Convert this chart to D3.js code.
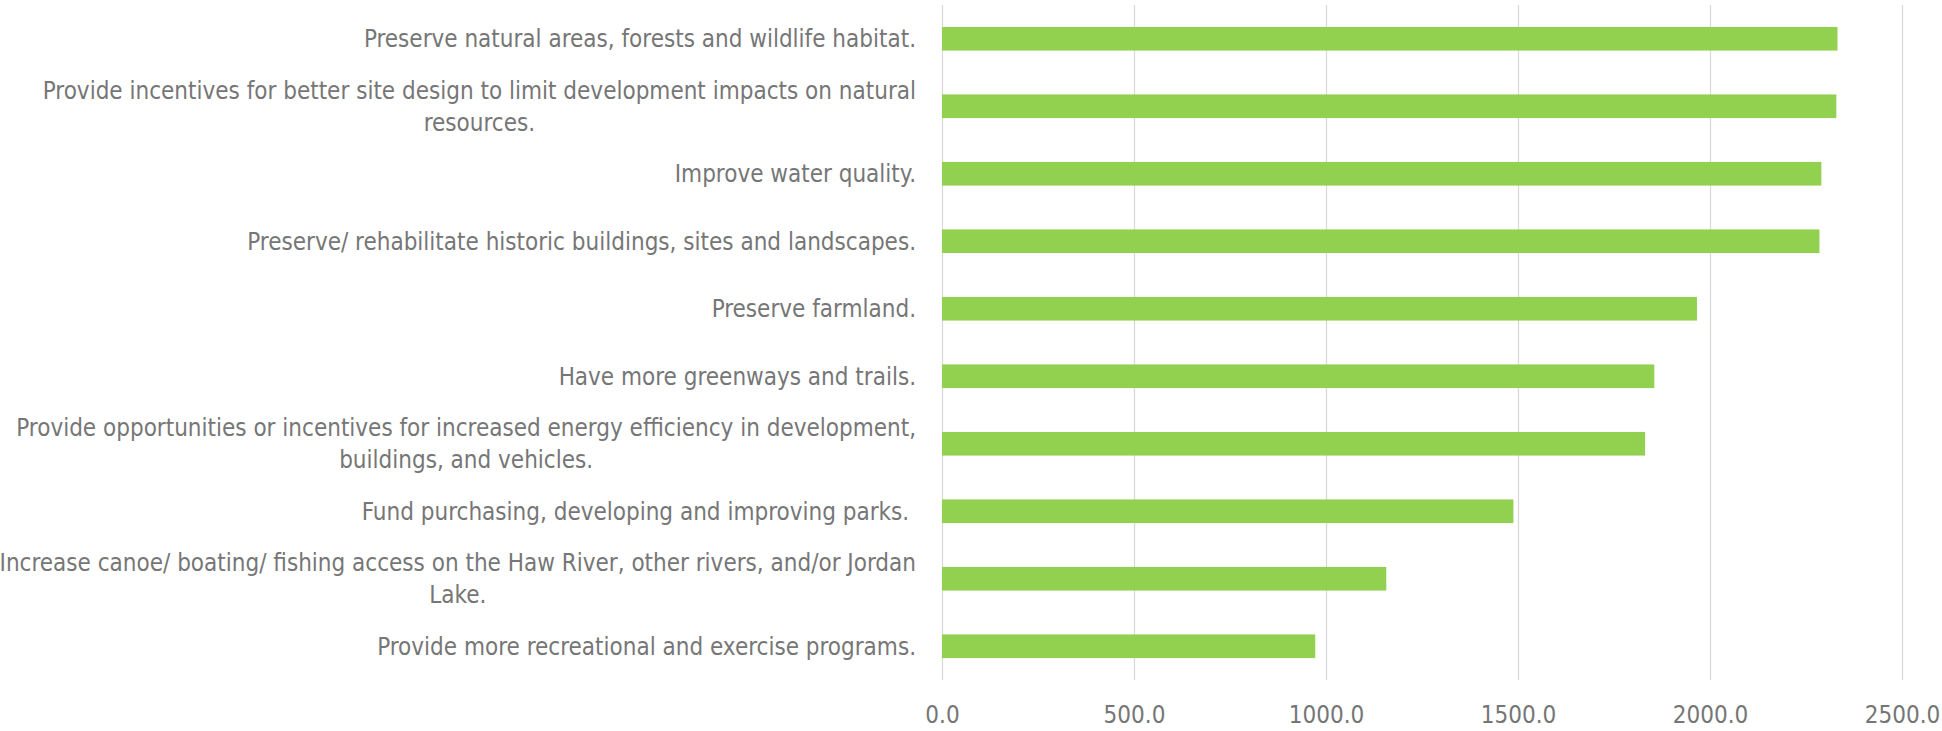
<!DOCTYPE html>
<html>
<head>
<meta charset="utf-8">
<script src="https://cdn.jsdelivr.net/npm/d3@7"></script>
<style>
  html, body { margin: 0; padding: 0; background: #fff; }
  svg text { font-family: "Liberation Sans Narrow", "DejaVu Sans Condensed", "Open Sans", sans-serif; fill: #767676; white-space: pre; }
</style>
</head>
<body>
<svg id="chart" width="1942" height="731"></svg>
<script>
const categories = [
  ["Preserve natural areas, forests and wildlife habitat."],
  ["Provide incentives for better site design to limit development impacts on natural", "resources."],
  ["Improve water quality."],
  ["Preserve/ rehabilitate historic buildings, sites and landscapes."],
  ["Preserve farmland."],
  ["Have more greenways and trails."],
  ["Provide opportunities or incentives for increased energy efficiency in development,", "buildings, and vehicles."],
  ["Fund purchasing, developing and improving parks. "],
  ["Increase canoe/ boating/ fishing access on the Haw River, other rivers, and/or Jordan", "Lake."],
  ["Provide more recreational and exercise programs."]
];
const values = [2332, 2329, 2290, 2285, 1966, 1855, 1831, 1488, 1157, 972];
const tickValues = [0, 500, 1000, 1500, 2000, 2500];

const svg = d3.select("#chart");
const plot = { left: 942, right: 1902, top: 5, bottom: 680 };
const fontSize = 24;

const x = d3.scaleLinear().domain([0, 2500]).range([plot.left, plot.right]);
const y = d3.scaleBand().domain(d3.range(categories.length)).range([plot.top, plot.bottom]).paddingInner(0.65).paddingOuter(0.325);

// gridlines
svg.append("g")
  .attr("transform", `translate(0,${plot.bottom})`)
  .call(d3.axisBottom(x).tickValues(tickValues).tickSize(-(plot.bottom - plot.top)).tickFormat(d => d.toFixed(1)).tickPadding(26))
  .call(g => g.select(".domain").remove())
  .call(g => g.selectAll(".tick line").attr("stroke", "#d9d9d9").attr("stroke-width", 1.3))
  .call(g => g.selectAll(".tick text").attr("font-size", fontSize).attr("fill", "#767676").attr("dy", "0.71em"));

// bars
svg.append("g").selectAll("rect").data(values).join("rect")
  .attr("x", x(0))
  .attr("y", (d, i) => y(i))
  .attr("width", d => x(d) - x(0))
  .attr("height", y.bandwidth())
  .attr("fill", "#92d050");

// category labels
const labelRight = 916;
const lineH = 32;
const lg = svg.append("g");
categories.forEach((lines, i) => {
  const cy = y(i) + y.bandwidth() / 2;
  const g = lg.append("g");
  const texts = lines.map((ln, k) => g.append("text")
    .attr("font-size", fontSize)
    .attr("y", cy + (k - (lines.length - 1) / 2) * lineH)
    .attr("dy", "0.35em")
    .text(ln));
  const widths = texts.map(t => t.node().getComputedTextLength());
  const maxW = d3.max(widths);
  const cx = labelRight - maxW / 2;
  texts.forEach(t => t.attr("x", cx).attr("text-anchor", "middle"));
});
</script>
</body>
</html>
